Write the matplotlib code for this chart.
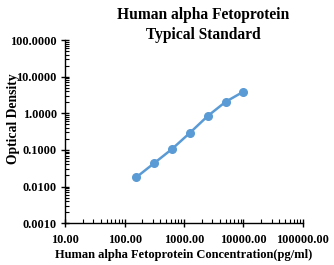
import numpy as np
import matplotlib
matplotlib.use("Agg")
import matplotlib.pyplot as plt
from matplotlib.ticker import LogLocator, FixedFormatter, FixedLocator

# standard curve data
conc = [156.25, 312.5, 625, 1250, 2500, 5000, 10000]
od = [0.0177, 0.043, 0.105, 0.29, 0.84, 2.05, 3.9]

x_ticks = [10, 100, 1000, 10000, 100000]
x_labels = ["10.00", "100.00", "1000.00", "10000.00", "100000.00"]
y_ticks = [0.001, 0.01, 0.1, 1, 10, 100]
y_labels = ["0.0010", "0.0100", "0.1000", "1.0000", "10.0000", "100.0000"]

plt.rcParams['font.family'] = ['Liberation Serif', 'DejaVu Serif']
plt.rcParams['font.weight'] = 'bold'

fig = plt.figure(figsize=(3.34, 2.65), dpi=100)
ax = fig.add_axes([0.195, 0.158, 0.712, 0.691])

ax.plot(conc, od, '-o', color='#5B9BD5', lw=1.8, markersize=5.5)

ax.set_xscale('log')
ax.set_yscale('log')
ax.set_xlim(10, 100000)
ax.set_ylim(0.001, 100)

ax.xaxis.set_major_locator(FixedLocator(x_ticks))
ax.xaxis.set_major_formatter(FixedFormatter(x_labels))
ax.yaxis.set_major_locator(FixedLocator(y_ticks))
ax.yaxis.set_major_formatter(FixedFormatter(y_labels))
ax.xaxis.set_minor_locator(LogLocator(base=10, subs=np.arange(2, 10)))
ax.yaxis.set_minor_locator(LogLocator(base=10, subs=np.arange(2, 10)))

for s in ['top', 'right']:
    ax.spines[s].set_visible(False)
for s in ['left', 'bottom']:
    ax.spines[s].set_linewidth(1.0)

ax.tick_params(which='major', direction='inout', length=6, width=1.0, labelsize=8.8)
ax.tick_params(axis='x', which='major', pad=5)
ax.tick_params(axis='y', which='major', pad=3)
ax.tick_params(which='minor', direction='in', length=3, width=0.8)
for lab in ax.get_xticklabels() + ax.get_yticklabels():
    lab.set_fontweight('bold')

ax.set_xlabel("Human alpha Fetoprotein Concentration(pg/ml)", fontsize=9, fontweight='bold', labelpad=2)
ax.set_ylabel("Optical Density", fontsize=9.8, fontweight='bold')
ax.yaxis.set_label_coords(-0.19, 0.57)

fig.text(0.608, 0.975, "Human alpha Fetoprotein\nTypical Standard", ha='center', va='top',
         fontsize=11.2, fontweight='bold', linespacing=1.35)

fig.savefig("out.png", dpi=100)
